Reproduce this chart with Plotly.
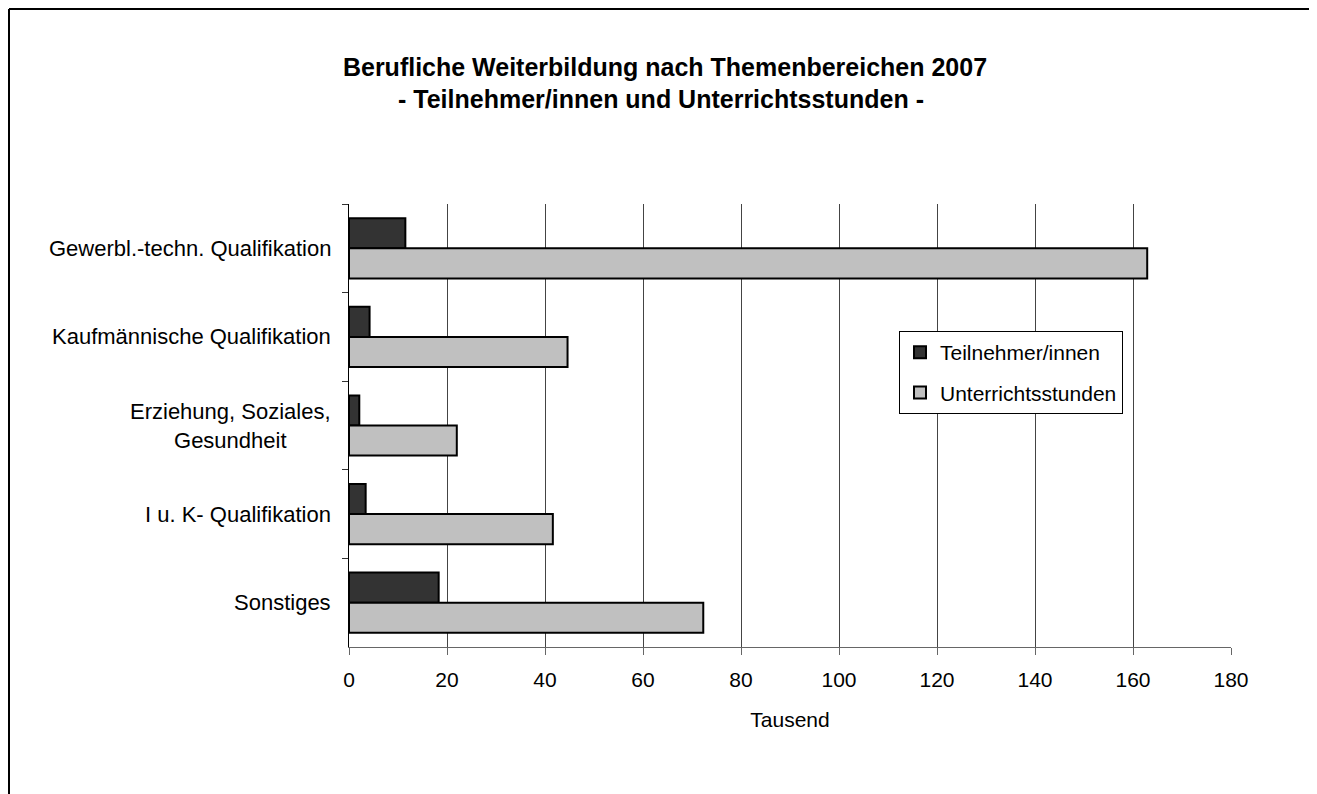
import plotly.graph_objects as go

categories = ["Gewerbl.-techn. Qualifikation", "Kaufmännische Qualifikation",
              "Erziehung, Soziales,<br>Gesundheit", "I u. K- Qualifikation", "Sonstiges"]
teilnehmer = [11.5, 4.2, 2.1, 3.4, 18.3]
unterricht = [162.9, 44.6, 22.0, 41.6, 72.3]
x_ticks = [0, 20, 40, 60, 80, 100, 120, 140, 160, 180]

OFF = 8  # page body margin
W, H = 1317 - OFF, 794 - OFF
L, R, T, B = 349 - OFF, 1231 - OFF, 204 - OFF, 647 - OFF
FONT = "Liberation Sans, Arial, sans-serif"
FS = 21

fig = go.Figure()
fig.add_trace(go.Bar(y=categories, x=teilnehmer, orientation="h", name="Teilnehmer/innen",
                     legendgroup="a",
                     marker=dict(color="#333333", line=dict(color="black", width=2))))
fig.add_trace(go.Bar(y=categories, x=unterricht, orientation="h", name="Unterrichtsstunden",
                     legendgroup="b",
                     marker=dict(color="#C0C0C0", line=dict(color="black", width=2))))

def px_x(px):
    return (px - OFF - L) / (R - L)

def px_y(py):
    return (B - (py - OFF)) / (B - T)

annotations = []
for c in categories:
    annotations.append(dict(text=c, x=px_x(333), xref="paper", y=c, yref="y",
                            xanchor="right", yanchor="middle", align="center",
                            showarrow=False, font=dict(family=FONT, size=22, color="black")))
annotations.append(dict(text="<b>- Teilnehmer/innen und Unterrichtsstunden -</b>",
                        x=px_x(661), xref="paper", y=px_y(99), yref="paper",
                        xanchor="center", yanchor="middle", showarrow=False,
                        font=dict(family=FONT, size=25, color="black")))

fig.update_layout(
    width=W, height=H,
    margin=dict(l=L, r=W - R, t=T, b=H - B),
    paper_bgcolor="white", plot_bgcolor="white",
    barmode="group", bargap=0.32, bargroupgap=0,
    title=dict(text="<b>Berufliche Weiterbildung nach Themenbereichen 2007</b>",
               x=(665 - OFF) / W, xanchor="center", y=1 - (67 - OFF) / H, yanchor="middle",
               font=dict(family=FONT, size=25, color="black")),
    font=dict(family=FONT, size=FS, color="black"),
    xaxis=dict(range=[0, 180], tickvals=x_ticks, ticktext=[str(v) for v in x_ticks],
               showgrid=True, gridcolor="#444444", gridwidth=1,
               showline=True, linecolor="#666666", linewidth=1,
               ticks="outside", ticklen=7, tickcolor="#666666",
               ticklabelstandoff=7,
               tickfont=dict(family=FONT, size=FS, color="black"),
               title=dict(text="Tausend", font=dict(family=FONT, size=FS, color="black"), standoff=22),
               zeroline=False),
    yaxis=dict(autorange="reversed", showticklabels=False,
               showline=True, linecolor="black", linewidth=1,
               ticks="outside", ticklen=6, tickcolor="#333333", tickson="boundaries",
               showgrid=False, zeroline=False),
    legend=dict(x=px_x(899), y=px_y(331), xanchor="left", yanchor="top",
                bordercolor="black", borderwidth=1, bgcolor="white",
                font=dict(family=FONT, size=FS, color="black"),
                traceorder="grouped", tracegroupgap=10),
    showlegend=True,
    annotations=annotations,
    shapes=[
        dict(type="line", xref="paper", yref="paper",
             x0=px_x(9), x1=px_x(1400), y0=px_y(9), y1=px_y(9),
             line=dict(color="black", width=2), layer="below"),
        dict(type="line", xref="paper", yref="paper",
             x0=px_x(9), x1=px_x(9), y0=px_y(9), y1=px_y(850),
             line=dict(color="black", width=2), layer="below"),
    ],
)

fig.write_html("out.html")
